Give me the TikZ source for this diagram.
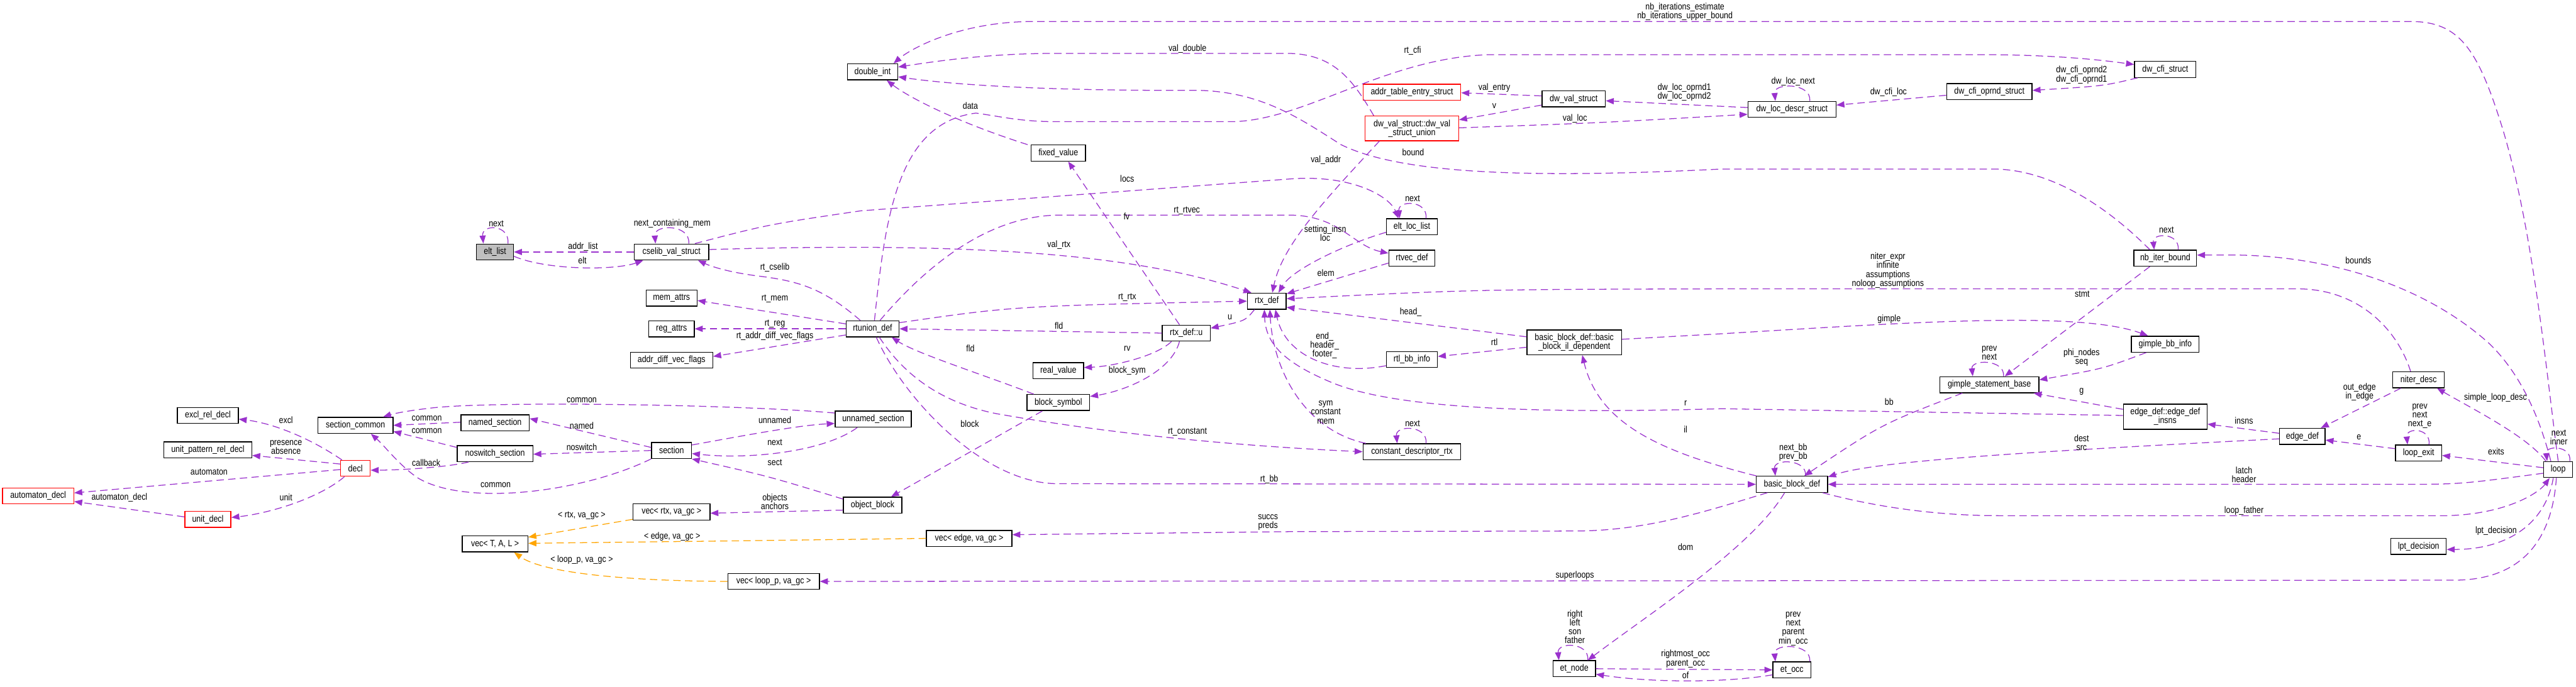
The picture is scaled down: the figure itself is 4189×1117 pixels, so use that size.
\documentclass[tikz,border=0pt]{standalone}
\usepackage{fontspec}
\setmainfont{Liberation Sans}[FakeStretch=0.85]
\usepackage{tikz}
\usetikzlibrary{arrows.meta}
\definecolor{dxpurple}{HTML}{9A32CD}
\definecolor{dxorange}{HTML}{FFA500}
\definecolor{dxgray}{HTML}{BFBFBF}
\definecolor{dxred}{HTML}{FF0000}
\newcommand{\dxfont}{\fontsize{15}{14.5}\selectfont}
\tikzset{
  cls/.style={draw=black, line width=1.4pt, fill=white, minimum height=26pt, inner xsep=3pt, inner ysep=1pt, font=\dxfont},
  trunc/.style={cls, draw=dxred},
  mainbox/.style={cls, fill=dxgray},
  lbl/.style={font=\dxfont, inner sep=0pt, align=center},
  collab/.style={draw=dxpurple, line width=1.3pt, dash pattern=on 12pt off 7pt, -{Triangle[length=13pt,width=10pt]}},
  tmpl/.style={collab, draw=dxorange},
  selfloop/.style={to path={.. controls +(3,-#1) and +(-3,-#1) .. (\tikztotarget)}},
  selfloop/.default=30
}
\begin{document}
\begin{tikzpicture}[x=1pt,y=-1pt]
	\fill[white] (0,0) rectangle (4189,1117);
	\useasboundingbox (0,0) rectangle (4189,1117);
	\foreach \n/\x/\y/\w/\t in
	{
		cselib/1092/410/121/cselib\_val\_struct,
		memattrs/1092/485/83/mem\_attrs,
		regattrs/1092/535/74/reg\_attrs,
		adv/1092/586/134/addr\_diff\_vec\_flags,
		rtunion/1419/535/86/rtunion\_def,
		doubleint/1419/117/82/double\_int,
		fixedval/1721/249/88/fixed\_value,
		realval/1721/603/82/real\_value,
		blocksym/1721/655/102/block\_symbol,
		rtxdef/2060/490/63/rtx\_def,
		rtxu/1929/542/78/rtx\_def::u,
		eltloc/2296/369/83/elt\_loc\_list,
		rtvec/2296/420/75/rtvec\_def,
		rtlbb/2296/585/83/rtl\_bb\_info,
		constdesc/2296/735/159/constant\_descriptor\_rtx,
		dwval/2559/161/103/dw\_val\_struct,
		etnode/2560/1088/69/et\_node,
		dwloc/2914/178/143/dw\_loc\_descr\_struct,
		bbdef/2914/788/116/basic\_block\_def,
		etocc/2914/1090/62/et\_occ,
		dwcfiop/3235/149/139/dw\_cfi\_oprnd\_struct,
		gimplebase/3235/626/161/gimple\_statement\_base,
		dwcfi/3521/113/100/dw\_cfi\_struct,
		nbiter/3521/420/102/nb\_iter\_bound,
		gimplebb/3521/560/110/gimple\_bb\_info,
		edgedef/3744/710/74/edge\_def,
		niterdesc/3933/618/84/niter\_desc,
		loopexit/3933/737/75/loop\_exit,
		lptdec/3933/889/90/lpt\_decision,
		loopn/4160/764/47/loop,
		excl/338/676/99/excl\_rel\_decl,
		unitpat/338/732/143/unit\_pattern\_rel\_decl,
		seccommon/578/692/122/section\_common,
		namedsec/805/688/111/named\_section,
		noswsec/805/738/123/noswitch\_section,
		section/1092/733/65/section,
		unnamedsec/1420/682/124/unnamed\_section,
		objblock/1419/822/95/object\_block,
		vecrtx/1092/833/125/{vec< rtx, va\_gc >},
		vectal/805/885/107/{vec< T, A, L >},
		vecloop/1258/946/149/{vec< loop\_p, va\_gc >},
		vecedge/1576/876/139/{vec< edge, va\_gc >}
	}
	{
		\node[cls, minimum width=\w] (\n) at (\x,\y) {\t};
	}
	\node[mainbox, minimum width=60] (eltlist) at (805,410) {elt\_list};
	\node[trunc, minimum width=159] (addrtab) at (2296,150) {addr\_table\_entry\_struct};
	\node[trunc, minimum width=152, minimum height=40, align=center] (dwvalunion) at (2296,209) {dw\_val\_struct::dw\_val\\\_struct\_union};
	\node[cls, minimum width=154, minimum height=40, align=center] (bbil) at (2560,557) {basic\_block\_def::basic\\\_block\_il\_dependent};
	\node[cls, minimum width=136, minimum height=41, align=center] (edgeinsns) at (3521,678) {edge\_def::edge\_def\\\_insns};
	\node[trunc, minimum width=48] (decl) at (578,762) {decl};
	\node[trunc, minimum width=116] (automaton) at (62,807) {automaton\_decl};
	\node[trunc, minimum width=75] (unitdecl) at (338,845) {unit\_decl};
	% decl
	\draw[collab] ([xshift=-22pt]decl.north) .. controls (500,710) and (440,688) .. ([yshift=-6pt]excl.east);
	\draw[collab] ([yshift=7pt]decl.west) -- ([yshift=-9pt]unitpat.east);
	\draw[collab] ([yshift=-2pt]decl.west) -- ([yshift=5pt]automaton.east);
	\draw[collab] ([xshift=-18pt]decl.south) .. controls (520,810) and (440,835) .. ([yshift=3pt]unitdecl.east);
	\draw[collab] ([yshift=4pt]unitdecl.west) -- ([yshift=-9pt]automaton.east);
	% sections
	\draw[collab] ([yshift=10pt]unnamedsec.west) .. controls (1200,658) and (800,652) .. (700,664) .. controls (665,668) and (640,673) .. ([xshift=45pt]seccommon.north);
	\draw[collab] ([yshift=1pt]namedsec.west) -- (seccommon.east);
	\draw[collab] ([yshift=10pt]noswsec.west) -- ([yshift=-10pt]seccommon.east);
	\draw[collab] ([xshift=-43pt]noswsec.south) .. controls (730,760) and (650,765) .. ([yshift=-3pt]decl.east);
	\draw[collab] (section.south west) .. controls (950,800) and (760,825) .. (680,778) .. controls (650,758) and (625,725) .. ([xshift=25pt]seccommon.south);
	\draw[collab] ([yshift=5pt]section.west) -- ([yshift=7pt]namedsec.east);
	\draw[collab] (section.west) -- ([yshift=-1pt]noswsec.east);
	\draw[collab] ([yshift=9pt]section.east) .. controls (1230,705) and (1300,692) .. ([yshift=-7pt]unnamedsec.west);
	\draw[collab] ([xshift=-26pt]unnamedsec.south) .. controls (1340,735) and (1220,748) .. ([yshift=-5pt]section.east);
	\draw[collab] ([yshift=10pt]objblock.west) .. controls (1250,775) .. ([xshift=33pt]section.south);
	\draw[collab] ([yshift=-8pt]objblock.west) -- ([yshift=-2pt]vecrtx.east);
	\draw[tmpl] ([yshift=-12pt]vecrtx.west) -- ([yshift=11pt]vectal.east);
	\draw[tmpl] (vecedge.west) .. controls (1200,880) .. ([yshift=1pt]vectal.east);
	\draw[tmpl] (vecloop.west) .. controls (1000,945) and (880,930) .. ([xshift=31pt]vectal.south);
	% elt_list, cselib
	\draw[collab] ([xshift=21pt]eltlist.north) to[selfloop=32] ([xshift=-19pt]eltlist.north);
	\draw[collab] (cselib.west) -- (eltlist.east);
	\draw[collab] ([yshift=-7pt]eltlist.east) .. controls (890,440) and (1000,440) .. ([xshift=-46pt]cselib.south);
	\draw[collab] ([xshift=28pt]cselib.north) to[selfloop=32] ([xshift=-26pt]cselib.north);
	\draw[collab] ([xshift=38pt]cselib.north) .. controls (1250,365) .. (1400,343) -- (2100,291) .. controls (2200,284) and (2260,320) .. ([xshift=-22pt]eltloc.north);
	\draw[collab] ([yshift=4pt]cselib.east) .. controls (1600,393) and (1850,415) .. ([xshift=-25pt]rtxdef.north);
	% rtunion_def
	\draw[collab] ([xshift=-20pt]rtunion.north) .. controls (1340,470) and (1300,458) .. (1240,450) .. controls (1190,444) and (1160,435) .. ([xshift=43pt]cselib.south);
	\draw[collab] ([yshift=8pt]rtunion.west) -- ([yshift=-4pt]memattrs.east);
	\draw[collab] (rtunion.west) -- (regattrs.east);
	\draw[collab] ([yshift=-10pt]rtunion.west) -- ([yshift=6pt]adv.east);
	\draw[collab] ([yshift=10pt]rtunion.east) .. controls (1650,498) .. (rtxdef.west);
	\draw[collab] (rtxu.west) -- (rtunion.east);
	\draw[collab] ([xshift=-20pt]rtxdef.south) .. controls (2025,522) .. ([yshift=8pt]rtxu.east);
	\draw[collab] ([xshift=-40pt]blocksym.north) .. controls (1600,610) and (1490,575) .. ([xshift=31pt]rtunion.south);
	\draw[collab] ([xshift=-11pt]rtxu.north) -- ([xshift=16pt]fixedval.south);
	\draw[collab] ([xshift=-50pt]fixedval.north) .. controls (1560,200) and (1480,160) .. ([xshift=23pt]doubleint.south);
	\draw[collab] ([xshift=-24pt]rtxu.south) .. controls (1880,580) and (1810,596) .. ([yshift=5pt]realval.east);
	\draw[collab] ([xshift=-11pt]rtxu.south) .. controls (1905,605) and (1830,636) .. ([yshift=10pt]blocksym.east);
	\draw[collab] ([xshift=-26pt]blocksym.south) -- ([xshift=30pt]objblock.north);
	\draw[collab] ([xshift=12pt]rtunion.north) .. controls (1500,440) and (1600,352) .. (1720,350) -- (2100,350) .. controls (2180,352) and (2200,400) .. ([yshift=8pt]rtvec.west);
	\draw[collab] ([xshift=3pt]rtunion.north) .. controls (1440,350) and (1460,200) .. (1587,184) .. controls (1630,190) and (1660,198) .. (1720,198) -- (2000,198) .. controls (2120,198) and (2250,95) .. (2420,89) -- (3240,89) .. controls (3350,90) and (3420,98) .. ([yshift=8pt]dwcfi.west);
	\draw[collab] ([xshift=6pt]rtunion.south) .. controls (1470,650) and (1600,787) .. (1720,787) -- (bbdef.west);
	\draw[collab] ([xshift=11pt]rtunion.south) .. controls (1470,610) and (1530,655) .. (1620,673) .. controls (1800,705) and (2000,725) .. (constdesc.west);
	% into rtx_def
	\draw[collab] ([yshift=-8pt]rtvec.west) -- ([yshift=12pt]rtxdef.east);
	\draw[collab] ([yshift=-9pt]eltloc.west) .. controls (2180,400) and (2100,440) .. ([xshift=19pt]rtxdef.north);
	\draw[collab] ([xshift=-53pt]dwvalunion.south) .. controls (2150,330) and (2085,400) .. ([xshift=9pt]rtxdef.north);
	\draw[collab] ([xshift=-13pt]niterdesc.north) .. controls (3900,540) and (3840,472) .. (3740,470) -- (2800,470) .. controls (2400,471) .. ([yshift=4pt]rtxdef.east);
	\draw[collab] ([yshift=9pt]bbil.west) -- ([yshift=-10pt]rtxdef.east);
	\draw[collab] ([yshift=-10pt]rtlbb.west) .. controls (2170,612) and (2090,580) .. ([xshift=14pt]rtxdef.south);
	\draw[collab] ([xshift=-75pt]constdesc.north) .. controls (2120,700) and (2070,600) .. ([xshift=5pt]rtxdef.south);
	\draw[collab] ([yshift=2pt]edgeinsns.west) -- (2800,665) .. controls (2450,675) and (2250,660) .. (2160,620) .. controls (2090,590) and (2058,560) .. ([xshift=-4pt]rtxdef.south);
	% into double_int
	\draw[collab] ([xshift=-62pt]dwvalunion.north) .. controls (2200,130) and (2170,90) .. (2100,87) -- (1700,87) .. controls (1600,88) and (1520,100) .. ([yshift=8pt]doubleint.east);
	\draw[collab] ([xshift=-25pt]nbiter.north) .. controls (3420,330) and (3330,275) .. (3240,275) -- (2800,275) .. controls (2500,290) and (2280,285) .. (2180,235) .. controls (2110,190) and (2050,150) .. (1950,147) .. controls (1700,148) and (1550,138) .. ([yshift=-8pt]doubleint.east);
	\draw[collab] (loopn.north) .. controls (4140,600) and (4120,380) .. (4071,214) .. controls (4030,80) and (4000,35) .. (3920,35) -- (1680,35) .. controls (1560,35) and (1480,80) .. ([xshift=34pt]doubleint.north);
	% loop
	\draw[collab] ([xshift=-12pt]loopn.north) .. controls (4130,680) and (4100,610) .. (4049,560) .. controls (3950,470) and (3800,418) .. (3640,415) -- ([yshift=5pt]nbiter.east);
	\draw[collab] ([xshift=-20pt]loopn.north) .. controls (4110,710) and (4020,665) .. ([xshift=30pt]niterdesc.south);
	\draw[collab] ([xshift=19pt]loopn.north) to[selfloop=26] ([xshift=-18pt]loopn.north);
	\draw[collab] ([yshift=3pt]loopn.west) -- ([yshift=-4pt]loopexit.east);
	\draw[collab] ([yshift=7pt]loopexit.west) -- ([yshift=-6pt]edgedef.east);
	\draw[collab] ([xshift=17pt]loopexit.north) to[selfloop=28] ([xshift=-18pt]loopexit.north);
	\draw[collab] ([xshift=-29pt]niterdesc.south) -- ([xshift=30pt]edgedef.north);
	\draw[collab] ([yshift=5pt]edgedef.west) -- ([yshift=-12pt]edgeinsns.east);
	\draw[collab] ([yshift=-4pt]edgedef.west) .. controls (3300,735) and (3050,750) .. ([yshift=12pt]bbdef.east);
	\draw[collab] ([yshift=-6pt]loopn.west) .. controls (4000,788) .. (3900,788) -- (bbdef.east);
	\draw[collab] ([xshift=50pt]bbdef.south) .. controls (3050,825) and (3150,839) .. (3250,839) -- (3980,839) .. controls (4080,836) and (4130,800) .. ([xshift=-14pt]loopn.south);
	\draw[collab] ([xshift=-8pt]loopn.south) .. controls (4140,850) and (4080,894) .. ([yshift=-5pt]lptdec.east);
	\draw[collab] ([xshift=-3pt]loopn.south) .. controls (4150,880) and (4100,944) .. (3990,944) -- (vecloop.east);
	% basic_block_def
	\draw[collab] ([xshift=22pt]bbdef.north) to[selfloop=28] ([xshift=-27pt]bbdef.north);
	\draw[collab] ([xshift=-44pt]gimplebase.south) .. controls (3060,690) .. ([xshift=20pt]bbdef.north);
	\draw[collab] ([xshift=-58pt]bbdef.north) .. controls (2700,735) and (2600,690) .. ([xshift=13pt]bbil.south);
	\draw[collab] ([xshift=-12pt]bbdef.south) .. controls (2850,890) and (2680,1000) .. ([xshift=22pt]etnode.north);
	\draw[collab] ([xshift=-40pt]bbdef.south) .. controls (2780,830) and (2680,864) .. (2560,864) -- (2100,865) -- ([yshift=6pt]vecedge.east);
	% gimple
	\draw[collab] ([xshift=23pt]gimplebase.north) to[selfloop=28] ([xshift=-27pt]gimplebase.north);
	\draw[collab] ([xshift=-25pt]nbiter.south) -- ([xshift=25pt]gimplebase.north);
	\draw[collab] ([xshift=-31pt]gimplebb.south) .. controls (3420,600) .. ([yshift=8pt]gimplebase.east);
	\draw[collab] ([yshift=12pt]edgeinsns.west) -- ([xshift=72pt]gimplebase.south);
	\draw[collab] ([yshift=5pt]bbil.east) -- (2800,543) .. controls (3100,525) and (3380,505) .. ([xshift=-28pt]gimplebb.north);
	\draw[collab] ([yshift=-8pt]bbil.west) -- ([yshift=5pt]rtlbb.east);
	\draw[collab] ([xshift=21pt]nbiter.north) to[selfloop=28] ([xshift=-18pt]nbiter.north);
	\draw[collab] ([xshift=23pt]constdesc.north) to[selfloop=30] ([xshift=-24pt]constdesc.north);
	\draw[collab] ([xshift=23pt]eltloc.north) to[selfloop=30] ([xshift=-20pt]eltloc.north);
	% dwarf
	\draw[collab] ([yshift=5pt]dwval.west) -- ([yshift=-1pt]addrtab.east);
	\draw[collab] ([yshift=-10pt]dwval.west) -- ([yshift=14pt]dwvalunion.east);
	\draw[collab] ([yshift=1pt]dwvalunion.east) .. controls (2600,200) .. ([yshift=-8pt]dwloc.west);
	\draw[collab] ([yshift=3pt]dwloc.west) -- ([yshift=-3pt]dwval.east);
	\draw[collab] ([xshift=29pt]dwloc.north) to[selfloop=30] ([xshift=-27pt]dwloc.north);
	\draw[collab] ([yshift=-6pt]dwcfiop.west) -- ([yshift=7pt]dwloc.east);
	\draw[collab] ([xshift=-45pt]dwcfi.south) .. controls (3420,140) .. ([yshift=2pt]dwcfiop.east);
	% et
	\draw[collab] ([xshift=22pt]etnode.north) to[selfloop=30] ([xshift=-25pt]etnode.north);
	\draw[collab] (etnode.east) -- (etocc.west);
	\draw[collab] ([yshift=-8pt]etocc.west) .. controls (2800,1112) and (2680,1110) .. ([yshift=-9pt]etnode.east);
	\draw[collab] ([xshift=29pt]etocc.north) to[selfloop=30] ([xshift=-27pt]etocc.north);
	\foreach \x/\y/\t [count=\i] in
	{
		807/364/next, 948/402/addr\_list, 947/424/elt, 1093/364/next\_containing\_mem,
		1833/291/locs, 1260/435/rt\_cselib, 1260/486/rt\_mem, 1260/527/rt\_reg,
		1260/547/rt\_addr\_diff\_vec\_flags, 1833/484/rt\_rtx, 1722/530/fld, 2000/516/u,
		1578/567/fld, 1832/352/fv, 1578/172/data, 1833/567/rv, 1833/603/block\_sym,
		1577/690/block, 1930/343/rt\_rtvec, 2156/444/elem, 2155/380/{setting\_insn\\loc},
		2156/260/val\_addr, 1722/398/val\_rtx, 1931/79/val\_double, 2298/248/bound,
		2297/82/rt\_cfi, 2740/19/{nb\_iterations\_estimate\\nb\_iterations\_upper\_bound},
		3835/424/bounds, 4058/647/simple\_loop\_desc,
		3070/440/{niter\_expr\\infinite\\assumptions\\noloop\_assumptions},
		2294/508/head\_, 2154/562/{end\_\\header\_\\footer\_}, 2156/671/{sym\\constant\\mem},
		2741/656/r, 1931/703/rt\_constant, 2064/780/rt\_bb, 2916/736/{next\_bb\\prev\_bb},
		3072/654/bb, 3235/574/{prev\\next}, 3386/478/stmt, 3385/582/{phi\_nodes\\seq},
		3385/637/g, 3072/519/gimple, 2430/557/rtl, 2741/699/il, 2297/689/next, 2297/323/next,
		3385/720/{dest\\src}, 3649/772/{latch\\header}, 3649/831/loop\_father, 2741/890/dom,
		2062/850/{succs\\preds}, 2561/936/superloops, 4059/864/lpt\_decision,
		4161/712/{next\\inner}, 4059/735/exits, 3836/711/e, 3935/677/{prev\\next\\next\_e},
		3837/638/{out\_edge\\in\_edge}, 3649/684/insns, 2430/143/val\_entry, 2430/172/v,
		2561/193/val\_loc, 2739/150/{dw\_loc\_oprnd1\\dw\_loc\_oprnd2}, 2916/133/dw\_loc\_next,
		3071/150/dw\_cfi\_loc, 3385/122/{dw\_cfi\_oprnd2\\dw\_cfi\_oprnd1}, 3523/374/next,
		2561/1020/{right\\left\\son\\father}, 2741/1072/{rightmost\_occ\\parent\_occ},
		2741/1099/of, 2916/1023/{prev\\next\\parent\\min\_occ},
		946/651/common, 694/681/common, 694/701/common, 693/753/callback, 806/789/common,
		946/693/named, 946/727/noswitch, 1260/683/unnamed, 1260/720/next, 1260/753/sect,
		1260/816/{objects\\anchors}, 946/839/{< rtx, va\_gc >}, 1093/873/{< edge, va\_gc >},
		946/911/{< loop\_p, va\_gc >}, 465/683/excl, 465/728/{presence\\absence},
		340/768/automaton, 465/809/unit, 196/810/automaton\_decl
	}
	{
		\node[lbl] (lab\i) at (\x,\y) {\t};
	}
\end{tikzpicture}
\end{document}
